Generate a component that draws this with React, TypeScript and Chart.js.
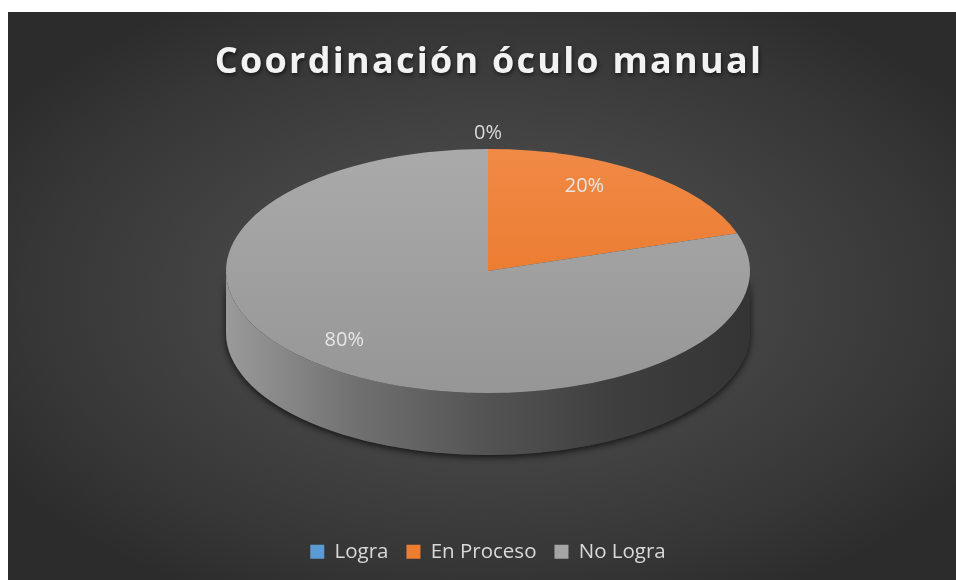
import React, { useEffect, useRef } from "react";
import { Chart, registerables } from "chart.js";

Chart.register(...registerables);

const TITLE = "Coordinación óculo manual";
const categories = ["Logra", "En Proceso", "No Logra"];
const values = [0, 20, 80];
const valueLabels = ["0%", "20%", "80%"];
const legendColors = ["#5b9bd5", "#ed7d31", "#a5a5a5"];
const topColors = [
  ["#6aa8e0", "#4f8fca"],
  ["#f08a46", "#e8701f"],
  ["#aaaaaa", "#969696"],
];
const sideColors = [
  ["#5a8fc0", "#3f6f9a", "#2f5575", "#24425c", "#1e384e"],
  ["#d9783a", "#b45f28", "#8c4a1f", "#6e3a18", "#5c3114"],
  ["#9a9a9a", "#707070", "#535353", "#3e3e3e", "#343434"],
];

const W = 960;
const H = 568;
const PIE = { cx: 480, cy: 259, rx: 262, ry: 122, depth: 62, apexShift: 23 };
const FONT = "'Open Sans', 'DejaVu Sans', sans-serif";

const pie3d = {
  id: "pie3d",
  beforeDatasetsDraw(chart: any) {
    const meta = chart.getDatasetMeta(0);
    const arcs = meta.data as any[];
    const ctx: CanvasRenderingContext2D = chart.ctx;
    ctx.save();
    if (!arcs.length) return;
    const a0 = arcs[0];
    const R = a0.outerRadius;
    const x0 = a0.x;
    const y0 = a0.y;
    const { cx, cy, rx, ry, depth } = PIE;

    // shadow under the front side
    ctx.save();
    ctx.shadowColor = "rgba(0,0,0,0.75)";
    ctx.shadowBlur = 7;
    ctx.shadowOffsetY = 2;
    ctx.beginPath();
    ctx.ellipse(cx, cy, rx, ry, 0, 0, Math.PI);
    ctx.ellipse(cx, cy + depth, rx, ry, 0, Math.PI, 0, true);
    ctx.closePath();
    ctx.fillStyle = "#3a3a3a";
    ctx.fill();
    ctx.restore();

    // side walls per slice
    arcs.forEach((arc: any, i: number) => {
      const s = arc.startAngle;
      const e = arc.endAngle;
      for (const shift of [-2 * Math.PI, 0, 2 * Math.PI]) {
        const lo = Math.max(s, shift);
        const hi = Math.min(e, shift + Math.PI);
        if (hi <= lo) continue;
        const a = lo - shift;
        const b = hi - shift;
        const g = ctx.createLinearGradient(cx - rx, 0, cx + rx, 0);
        const st = sideColors[i];
        st.forEach((c, k) => g.addColorStop(k / (st.length - 1), c));
        ctx.beginPath();
        ctx.ellipse(cx, cy, rx, ry, 0, a, b);
        ctx.ellipse(cx, cy + depth, rx, ry, 0, b, a, true);
        ctx.closePath();
        ctx.fillStyle = g;
        ctx.fill();
      }
    });

    // squash the library's pie into the ellipse of the top face
    ctx.translate(cx, cy);
    ctx.scale(rx / R, ry / R);
    ctx.translate(-x0, -y0);
  },
  afterDatasetsDraw(chart: any) {
    const ctx: CanvasRenderingContext2D = chart.ctx;
    ctx.restore();
    const meta = chart.getDatasetMeta(0);
    const arcs = meta.data as any[];
    const { cx, cy, rx, ry, apexShift } = PIE;
    ctx.save();
    ctx.font = `20px ${FONT}`;
    ctx.textAlign = "center";
    ctx.textBaseline = "middle";
    arcs.forEach((arc: any, i: number) => {
      const mid = (arc.startAngle + arc.endAngle) / 2;
      let x: number;
      let y: number;
      if (values[i] === 0) {
        x = cx + rx * 1.13 * Math.cos(mid);
        y = cy + ry * 1.13 * Math.sin(mid);
      } else {
        const f = 0.78 + 0.19 * Math.sin(mid);
        x = cx + rx * f * Math.cos(mid);
        y = cy - apexShift + ry * f * Math.sin(mid);
      }
      ctx.fillStyle = values[i] === 0 ? "#d9d9d9" : "#e6e6e6";
      ctx.fillText(valueLabels[i], x, y);
    });
    ctx.restore();
  },
};

const titlePlugin = {
  id: "titleText",
  afterDraw(chart: any) {
    const ctx: CanvasRenderingContext2D = chart.ctx;
    ctx.save();
    ctx.font = `bold 36px ${FONT}`;
    (ctx as any).letterSpacing = "2.25px";
    ctx.textAlign = "center";
    ctx.textBaseline = "alphabetic";
    ctx.shadowColor = "rgba(0,0,0,0.6)";
    ctx.shadowBlur = 4;
    ctx.shadowOffsetX = 1;
    ctx.shadowOffsetY = 2;
    ctx.fillStyle = "#f2f2f2";
    ctx.fillText(TITLE, chart.width / 2 + 1, 61);
    ctx.restore();
  },
};

export default function App() {
  const ref = useRef<HTMLCanvasElement>(null);
  useEffect(() => {
    if (!ref.current) return;
    const chart = new Chart(ref.current, {
      type: "pie",
      data: {
        labels: categories,
        datasets: [
          {
            data: values,
            borderWidth: 0,
            clip: false as any,
            backgroundColor: (c: any) => {
              const ch = c.chart;
              const area = ch.chartArea;
              const i = c.dataIndex ?? 0;
              if (!area) return legendColors[i];
              const mcy = (area.top + area.bottom) / 2;
              const r = Math.min(area.right - area.left, area.bottom - area.top) / 2;
              const g = ch.ctx.createLinearGradient(0, mcy - r, 0, mcy + r);
              g.addColorStop(0, topColors[i][0]);
              g.addColorStop(1, topColors[i][1]);
              return g;
            },
          } as any,
        ],
      },
      options: {
        responsive: false,
        maintainAspectRatio: false,
        animation: false,
        events: [],
        layout: { padding: { top: 90, bottom: 8 } },
        plugins: {
          title: { display: false },
          tooltip: { enabled: false },
          legend: {
            position: "bottom",
            labels: {
              color: "#d9d9d9",
              font: { family: FONT, size: 20.5 },
              boxWidth: 14,
              boxHeight: 14,
              padding: 18,
              generateLabels: () =>
                categories.map((c, i) => ({
                  text: c,
                  fillStyle: legendColors[i],
                  strokeStyle: legendColors[i],
                  lineWidth: 0,
                  hidden: false,
                  index: i,
                  fontColor: "#d9d9d9",
                })),
            },
          },
        },
      },
      plugins: [pie3d, titlePlugin],
    });
    return () => chart.destroy();
  }, []);

  return (
    <div
      style={{
        position: "fixed",
        left: 8,
        top: 12,
        width: W,
        height: H,
        background:
          "radial-gradient(ellipse 60% 60% at 50% 50%, #4e4e4e 0%, #444444 45%, #363636 80%, #2c2c2c 100%)",
      }}
    >
      <canvas ref={ref} width={W} height={H} style={{ display: "block" }} />
    </div>
  );
}
